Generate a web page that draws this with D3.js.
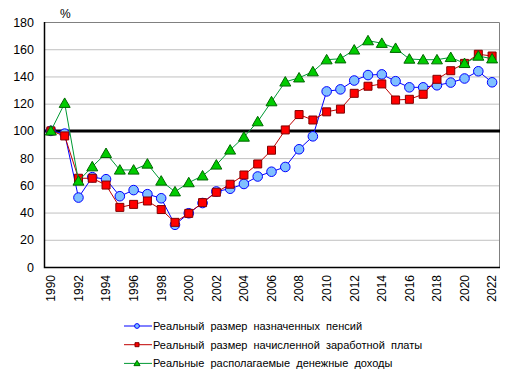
<!DOCTYPE html>
<html>
<head>
<meta charset="utf-8">
<script src="https://cdn.jsdelivr.net/npm/d3@7"></script>
<style>
  body { margin: 0; background: #fff; }
  svg { display: block; font-family: Arial, "Liberation Sans", sans-serif; }
</style>
</head>
<body>
<div id="chart"></div>
<script>
// data, 1990 = 100
const years = d3.range(1990, 2023)
const pensions = [100, 98, 51, 66, 64.5, 52, 56.5, 53.5, 50.5, 31, 39.5, 47, 55.5, 57.5, 61, 66.5, 70, 73.5, 86.5, 96,
  129, 130.5, 137, 141, 141.5, 136.5, 132, 132, 133.5, 135.5, 138.5, 143.8, 135.7]
const wages = [100, 96.3, 65.2, 65.2, 60.2, 43.8, 46, 48.5, 42.2, 32.8, 39.4, 47.3, 54.9, 60.8, 67.6, 75.7, 85.8, 100.7, 112, 108,
  114, 116, 127.6, 132.8, 134.5, 122.7, 123.2, 126.9, 137.9, 144.2, 149.6, 156.3, 155]
const incomes = [100, 120.3, 63.2, 73.7, 83.5, 71.3, 71.3, 75.7, 63.2, 55.3, 62, 67, 75, 86, 95.5, 106.8, 121.5, 136, 139, 143.5,
  152.3, 153, 159.5, 166.3, 164.4, 160.7, 152.8, 152.3, 152.3, 154, 149.6, 155, 153]
const yTicks = [0, 20, 40, 60, 80, 100, 120, 140, 160, 180]

const series = [
  { name: "Реальный  размер  назначенных  пенсий", values: pensions, line: "#0000ff", fill: "#80c0ff", stroke: "#0000ff", shape: "circle" },
  { name: "Реальный  размер  начисленной  заработной  платы", values: wages, line: "#c00000", fill: "#ff0000", stroke: "#800000", shape: "square" },
  { name: "Реальные  располагаемые  денежные  доходы", values: incomes, line: "#009933", fill: "#00cc00", stroke: "#006600", shape: "triangle" }
]

const width = 511, height = 375
const plot = { left: 44, right: 499, top: 22, bottom: 267 }

const svg = d3.select("#chart")
  .append("svg")
  .attr("width", width)
  .attr("height", height)

const x = d3.scaleBand()
  .domain(years)
  .range([plot.left, plot.right])
  .padding(0)
const cx = d => x(d) + x.bandwidth() / 2

const y = d3.scaleLinear()
  .domain([0, 180])
  .range([plot.bottom, plot.top])

// grid
svg.selectAll("line.grid")
  .data(yTicks.filter(d => d > 0 && d < 180))
  .enter().append("line")
  .attr("class", "grid")
  .attr("x1", plot.left).attr("x2", plot.right)
  .attr("y1", d => y(d) + 0.5).attr("y2", d => y(d) + 0.5)
  .style("stroke", "#c0c0c0")
  .style("stroke-width", 1)

// plot border (top/right gray)
svg.append("path")
  .attr("d", `M${plot.left},${plot.top + 0.5}H${plot.right + 0.5}V${plot.bottom}`)
  .style("fill", "none")
  .style("stroke", "#808080")

// y axis
const yAxis = d3.axisLeft(y).tickValues(yTicks).tickSize(0).tickPadding(10)
svg.append("g")
  .attr("transform", `translate(${plot.left},0)`)
  .call(yAxis)
  .call(g => g.select(".domain").remove())
  .selectAll("text")
  .style("font-size", "12.5px")
  .style("font-family", "Arial, 'Liberation Sans', sans-serif")
  .style("fill", "#000")

// x axis
const xAxis = d3.axisBottom(x).tickValues(years.filter(d => d % 2 === 0)).tickSize(0).tickPadding(0)
svg.append("g")
  .attr("transform", `translate(0,${plot.bottom})`)
  .call(xAxis)
  .call(g => g.select(".domain").remove())
  .selectAll("text")
  .attr("transform", "translate(0,8) rotate(-90)")
  .attr("x", 0).attr("y", 0).attr("dy", "0.36em")
  .style("text-anchor", "end")
  .style("font-size", "12px")
  .style("font-family", "Arial, 'Liberation Sans', sans-serif")
  .style("fill", "#000")

// axis lines (black)
svg.append("path")
  .attr("d", `M${plot.left + 0.5},${plot.top}V${plot.bottom + 0.5}H${plot.right + 1}`)
  .style("fill", "none")
  .style("stroke", "#000")
  .style("stroke-width", 1.5)

// 100 reference line
svg.append("line")
  .attr("x1", plot.left).attr("x2", plot.right + 1)
  .attr("y1", y(100)).attr("y2", y(100))
  .style("stroke", "#000")
  .style("stroke-width", 3)

svg.append("text")
  .attr("x", 60).attr("y", 18)
  .style("font-size", "12px")
  .text("%")

const symbolFor = s => s === "circle" ? d3.symbolCircle : s === "square" ? d3.symbolSquare : d3.symbolTriangle
const sizeFor = s => s === "circle" ? 72 : s === "square" ? 64 : 52

const line = d3.line().x((d, i) => cx(years[i])).y(d => y(d))

series.forEach(s => {
  svg.append("path")
    .datum(s.values)
    .attr("d", line)
    .style("fill", "none")
    .style("stroke", s.line)
    .style("stroke-width", 1)

  svg.selectAll(null)
    .data(s.values)
    .enter().append("path")
    .attr("transform", (d, i) => `translate(${cx(years[i])},${y(d) + (s.shape === "triangle" ? 1 : 0)})`)
    .attr("d", d3.symbol().type(symbolFor(s.shape)).size(sizeFor(s.shape)))
    .style("fill", s.fill)
    .style("stroke", s.stroke)
    .style("stroke-width", 1)
})

// legend
const legend = svg.append("g")
  .attr("transform", "translate(124,326)")
series.forEach((s, i) => {
  const g = legend.append("g").attr("transform", `translate(0,${i * 18.7})`)
  g.append("line")
    .attr("x1", 0).attr("x2", 28)
    .style("stroke", s.line)
    .style("stroke-width", 1)
  g.append("path")
    .attr("transform", `translate(13,${s.shape === "triangle" ? 0.5 : 0})`)
    .attr("d", d3.symbol().type(symbolFor(s.shape)).size(s.shape === "circle" ? 18 : 16))
    .style("fill", s.fill)
    .style("stroke", s.stroke)
  g.append("text")
    .attr("x", 29).attr("y", 0).attr("dy", "0.35em")
    .style("font-size", "11px")
    .style("white-space", "pre")
    .text(s.name)
})
</script>
</body>
</html>
